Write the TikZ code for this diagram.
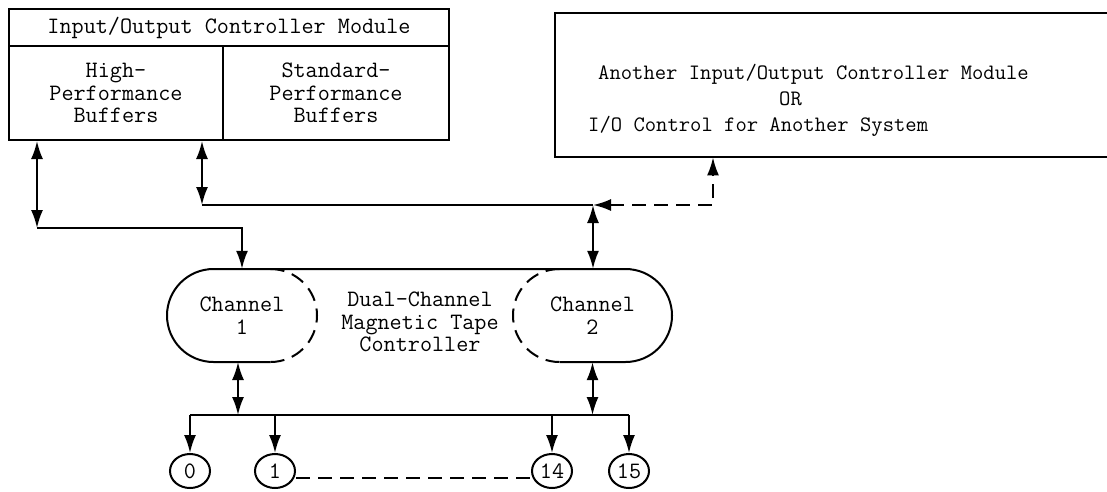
\documentclass[tikz,border=0pt]{standalone}
\usetikzlibrary{arrows.meta,shapes.geometric}

\tikzset{
  wire/.style={line width=2pt},
  dash14/.style={dash pattern=on 14pt off 8pt},
  both/.style={{Latex[length=18pt,width=12pt]}-{Latex[length=18pt,width=12pt]}},
  fwd/.style={-{Latex[length=18pt,width=12pt]}},
  label/.style={font=\ttfamily\fontsize{23.5}{22.5}\selectfont, inner sep=0pt},
  smalllabel/.style={font=\ttfamily\fontsize{22}{22}\selectfont, inner sep=0pt},
  frame/.style={draw, wire, inner sep=0pt, anchor=north west},
  drive/.style={draw, wire, ellipse, minimum width=40pt, minimum height=34pt,
                inner sep=0pt, font=\ttfamily\fontsize{23.5}{23}\selectfont},
}

\begin{document}
\begin{tikzpicture}[x=1pt,y=1pt]
\useasboundingbox (0,0) rectangle (1107,-491);

% ---- Input/Output Controller Module ----
\node[frame, label, minimum width=440pt, minimum height=37pt] (ioc) at (8,-8)
  {Input/Output Controller Module};
\node[frame, label, align=center, minimum width=214pt, minimum height=94pt] (hpb) at (8,-45)
  {High-\\Performance\\Buffers};
\node[frame, label, align=center, minimum width=226pt, minimum height=94pt] (spb) at (222,-45)
  {Standard-\\Performance\\Buffers};

% ---- second controller (open to the right) ----
\node[inner sep=0pt, anchor=north west, minimum width=553pt, minimum height=144pt] (other) at (555,-13) {};
\draw[wire] (other.north east) -- (other.north west) -- (other.south west) -- (other.south east);
\node[smalllabel, anchor=base west] (oa) at (598,-79) {Another Input/Output Controller Module};
\node[smalllabel, anchor=base west] (ob) at (779,-105) {OR};
\node[smalllabel, anchor=base west] (oc) at (588,-131) {I/O Control for Another System};

% ---- dual-channel magnetic tape controller ----
\node[label, align=center, minimum width=150pt, minimum height=93pt] (ch1) at (242,-315.5) {Channel\\1};
\node[label, align=center, minimum width=159pt, minimum height=93pt] (ch2) at (592.5,-315.5) {Channel\\2};
\node[label, align=center] (mtc) at (420,-322) {Dual-Channel\\Magnetic Tape\\Controller};

\draw[wire] (270.5,-362) -- (213.5,-362) arc[start angle=270, end angle=90, radius=46.5]
  -- (625.5,-269) arc[start angle=90, end angle=-90, radius=46.5] -- (559.5,-362);
\draw[wire, dash14] (270.5,-269) arc[start angle=90, end angle=-90, radius=46.5];
\draw[wire, dash14] (559.5,-269) arc[start angle=90, end angle=270, radius=46.5];

% ---- buffer links to the controller ----
\coordinate (j1) at (37,-228);
\coordinate (j2) at (202,-205);
\coordinate (j3) at (593,-205);
\coordinate (j4) at (713,-205);
\draw[wire, both] (j1|-hpb.south) -- (j1);
\draw[wire, fwd] (j1) -| (ch1.north);
\draw[wire, both] (j2|-spb.south) -- (j2);
\draw[wire] (j2) -- (j3);
\draw[wire, both] (j3) -- (j3|-ch2.north);
\draw[wire, dash14, both] (j3) -- (j4) -- (j4|-other.south);

% ---- tape drives ----
\node[drive] (t0)  at (190,-471) {0};
\node[drive] (t1)  at (275,-471) {1};
\node[drive] (t14) at (552,-471) {14};
\node[drive] (t15) at (629,-471) {15};

\coordinate (busL) at (190,-415);
\coordinate (busR) at (629,-415);
\coordinate (c1s) at (238,-362);
\coordinate (dl) at (0,-478);
\draw[wire] (busL) -- (busR);
\draw[wire, both] (c1s) -- (c1s|-busL);
\draw[wire, both] (ch2.south) -- (ch2.south|-busL);
\foreach \d in {t0,t1,t14,t15}
  \draw[wire, fwd] (\d|-busL) -- (\d.north);
\draw[wire, dash14] (t1.east|-dl) -- (t14.west|-dl);
\end{tikzpicture}
\end{document}
